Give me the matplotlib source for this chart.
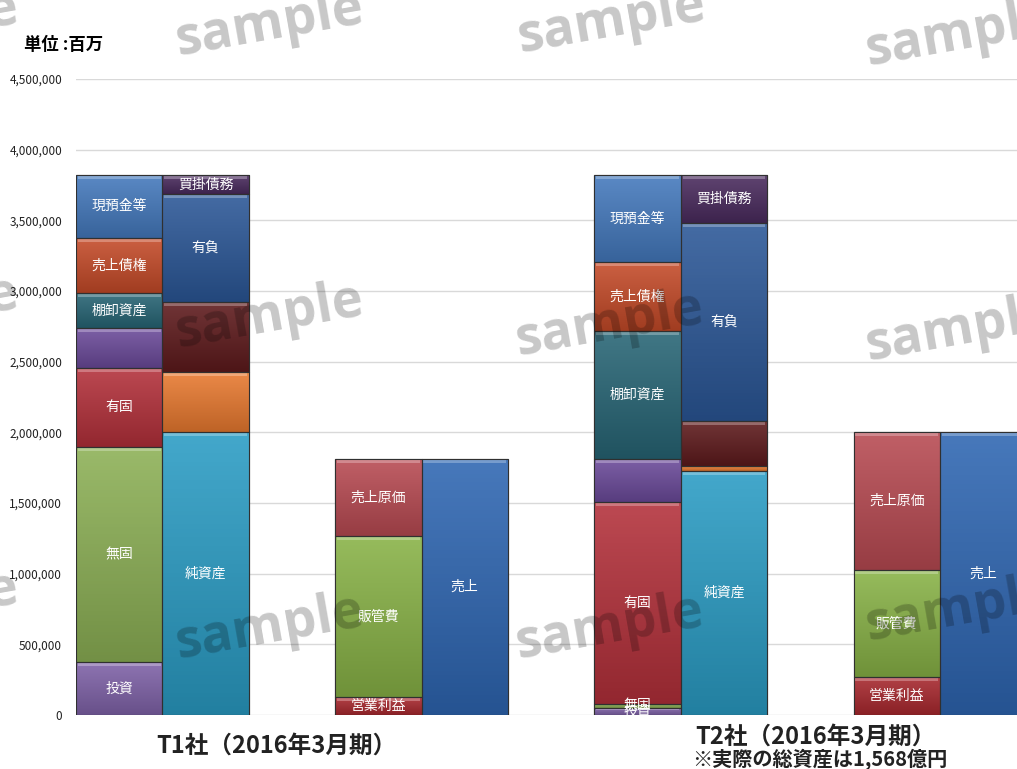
import numpy as np
import matplotlib.pyplot as plt
from matplotlib.colors import to_rgb
from matplotlib.patches import Rectangle
from matplotlib.ticker import FuncFormatter

plt.rcParams['font.family'] = ['Noto Sans CJK JP', 'DejaVu Sans']

# 単位: 百万
asset_names = ['投資', '無固', '有固', '', '棚卸資産', '売上債権', '現預金等']
asset_colors = ['#7f62a8', '#8cb055', '#b3303a', '#6b4a9a', '#276575', '#c44a28', '#4479bd']
t1_assets = [375000, 1522000, 559000, 283000, 248000, 389000, 446000]
t2_assets = [50000, 30000, 1427000, 305000, 906000, 488000, 616000]

liab_names = ['純資産', '', '', '有負', '買掛債務']
liab_colors = ['#2a9cc4', '#e8792f', '#5e1a1c', '#2b5797', '#4a2b5e']
t1_liab = [2003000, 424000, 496000, 764000, 135000]
t2_liab = [1727000, 35000, 319000, 1401000, 340000]

cost_names = ['営業利益', '販管費', '売上原価']
cost_colors = ['#a8282e', '#88b246', '#b84a52']
t1_cost = [127000, 1140000, 545000]
t2_cost = [269000, 757000, 977000]

sales_names = ['売上']
sales_colors = ['#2e66b2']
t1_sales = [1812000]
t2_sales = [2003000]

yticks = np.arange(0, 4500001, 500000)

fig = plt.figure(figsize=(10.17, 7.69), dpi=100)
ax = fig.add_axes([0.0747, 0.0702, 0.977, 0.8271])
ax.set_xlim(-0.5, 11.0)
ax.set_ylim(0, 4500000)
px = 4500000 / 636  # data units per pixel (vertical)


def shade(c, k):
    r = np.array(to_rgb(c))
    if k > 0:
        return tuple(r + (1 - r) * k)
    return tuple(r * (1 + k))


def stack(x, values, names, colors):
    bottom = 0
    for v, name, c in zip(values, names, colors):
        rect = ax.bar(x, v, width=1.0, bottom=bottom, color=c,
                      edgecolor='#2a2a2a', linewidth=0.8, zorder=2)[0]
        # vertical gradient, lighter at top
        grad = np.linspace(0, 1, 64).reshape(-1, 1)
        top_c, bot_c = np.array(shade(c, 0.12)), np.array(shade(c, -0.18))
        img = top_c * (1 - grad[..., None]) + bot_c * grad[..., None]
        img = np.repeat(img, 2, axis=1)
        im = ax.imshow(img, extent=[x - 0.5, x + 0.5, bottom, bottom + v],
                       aspect='auto', origin='upper', zorder=2.1)
        im.set_clip_path(rect)
        # bevel highlight along the top edge
        hl = min(4 * px, v * 0.3)
        ax.add_patch(Rectangle((x - 0.48, bottom + v - hl), 0.96, hl,
                               color=shade(c, 0.35), lw=0, zorder=2.2))
        ax.add_patch(Rectangle((x - 0.5, bottom), 1.0, v, fill=False,
                               edgecolor='#303030', lw=0.8, zorder=2.3))
        if name:
            ax.text(x, bottom + v / 2, name, ha='center', va='center',
                    color='white', fontsize=10, zorder=3)
        bottom += v


stack(0, t1_assets, asset_names, asset_colors)
stack(1, t1_liab, liab_names, liab_colors)
stack(3, t1_cost, cost_names, cost_colors)
stack(4, t1_sales, sales_names, sales_colors)
stack(6, t2_assets, asset_names, asset_colors)
stack(7, t2_liab, liab_names, liab_colors)
stack(9, t2_cost, cost_names, cost_colors)
stack(10, t2_sales, sales_names, sales_colors)

ax.set_yticks(yticks)
ax.yaxis.set_major_formatter(FuncFormatter(lambda v, p: f'{int(v):,}'))
ax.tick_params(axis='y', length=0, pad=10, labelsize=8.5, labelcolor='#222222')
ax.set_xticks([])
ax.grid(axis='y', color='#d9d9d9', linewidth=1.0, zorder=0)
ax.set_axisbelow(True)
for s in ax.spines.values():
    s.set_visible(False)

fig.text(0.024, 0.942, '単位 :百万', fontsize=12.5, fontweight='bold', va='center')
fig.text(0.272, 0.031, 'T1社（2016年3月期）', fontsize=17, fontweight='bold',
         ha='center', va='center', color='#222222')
fig.text(0.802, 0.042, 'T2社（2016年3月期）', fontsize=17, fontweight='bold',
         ha='center', va='center', color='#222222')
fig.text(0.806, 0.013, '※実際の総資産は1,568億円', fontsize=14.5, fontweight='bold',
         ha='center', va='center', color='#222222')

# watermark tiles
marks = [(-75, 25), (270, 25), (612, 22), (960, 35),
         (-75, 310), (270, 317), (610, 325), (960, 330),
         (-75, 605), (270, 628), (610, 628), (960, 610)]
for mx, my in marks:
    fig.text(mx / 1017, 1 - my / 769, 'sample', fontsize=38, fontweight='bold',
             family='Open Sans', color='black', alpha=0.22, rotation=10,
             ha='center', va='center', zorder=10)

fig.savefig('out.png', dpi=100)
